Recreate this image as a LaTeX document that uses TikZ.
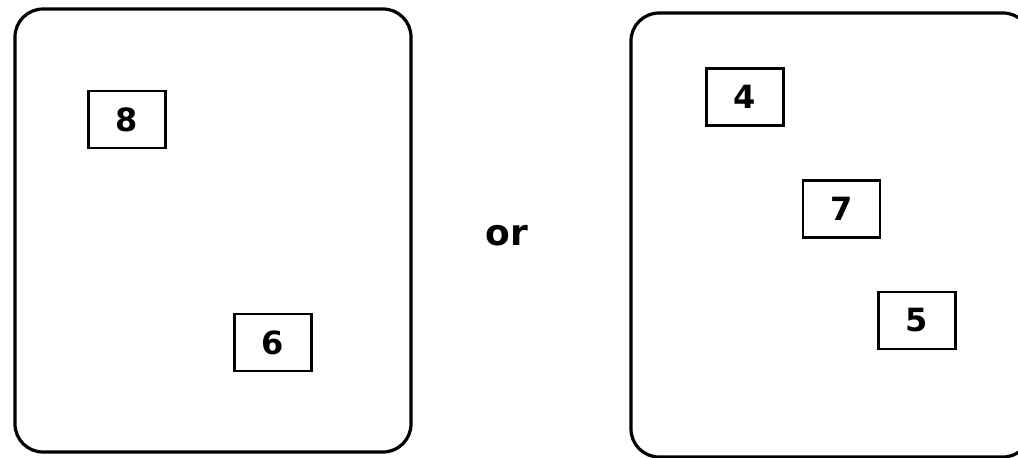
\documentclass[tikz,border=0pt]{standalone}
\usepackage{fontspec}
\newfontfamily\digitfont{DejaVu Sans}
\begin{document}
\begin{tikzpicture}[x=1pt,y=-1pt,
  frame/.style={draw=black,line width=3.2pt,rounded corners=28pt},
  numbox/.style={draw=black,line width=2.4pt,minimum width=77pt,minimum height=57pt,inner sep=0pt,font=\digitfont\bfseries\fontsize{32}{32}\selectfont},
  ortext/.style={font=\digitfont\bfseries\fontsize{36}{36}\selectfont,inner sep=0pt,anchor=base}]
\useasboundingbox (0,0) rectangle (1018,458);
\clip (0,0) rectangle (1018,458);
\draw[frame] (15,9) rectangle (411,452);
\draw[frame] (631,13) rectangle (1031,457);
\node[numbox] (n8) at (127,119.5) {8};
\node[numbox] (n6) at (273,342.5) {6};
\node[numbox] (n4) at (745,97) {4};
\node[numbox] (n7) at (841.5,209) {7};
\node[numbox] (n5) at (917,320.5) {5};
\node[ortext] (or) at (507,245) {or};
\end{tikzpicture}
\end{document}
